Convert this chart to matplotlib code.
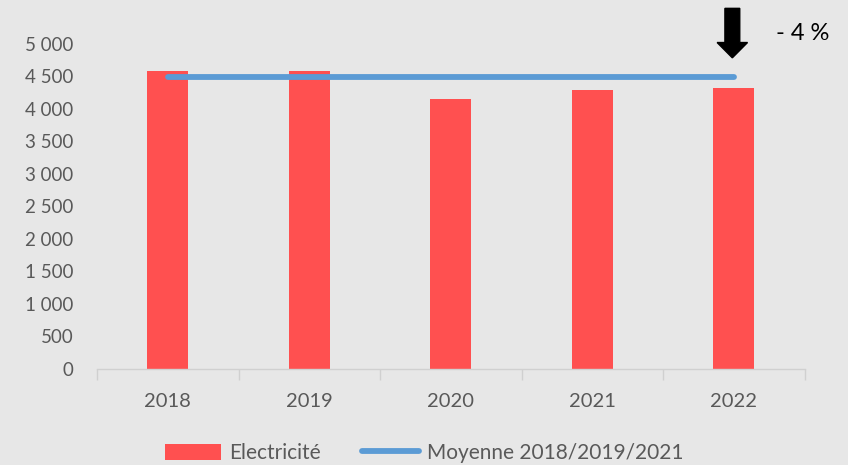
import numpy as np
import matplotlib
matplotlib.use('Agg')
import matplotlib.pyplot as plt
from matplotlib.patches import FancyArrow
from matplotlib.ticker import FuncFormatter

plt.rcParams['font.family'] = ['Lato', 'DejaVu Sans']

# donnees
annees = ['2018', '2019', '2020', '2021', '2022']
electricite = [4585, 4570, 4140, 4290, 4320]
moyenne = [4482, 4482, 4482, 4482, 4482]
etiquette_ecart = '- 4 %'

bg = '#E7E7E7'
rouge = '#FF5050'
bleu = '#5B9BD5'
gris = '#595959'

fig = plt.figure(figsize=(8.48, 4.65), dpi=100, facecolor=bg)
ax = fig.add_axes([97 / 848, 1 - 369 / 465, 707.5 / 848, 325.5 / 465])
ax.set_facecolor(bg)

x = np.arange(len(annees))
barres = ax.bar(x, electricite, width=0.29, color=rouge, label='Electricité', zorder=2)
ligne, = ax.plot(x, moyenne, color=bleu, lw=4.2, solid_capstyle='round',
                 label='Moyenne 2018/2019/2021', zorder=3)

ax.set_xlim(-0.5, len(annees) - 0.5)
ax.set_ylim(0, 5000)
ax.set_yticks(range(0, 5001, 500))
ax.yaxis.set_major_formatter(FuncFormatter(lambda v, p: f'{int(v):,}'.replace(',', ' ')))
ax.set_xticks(x)
ax.set_xticklabels(annees)
ax.set_xticks(np.arange(-0.5, len(annees)), minor=True)
ax.tick_params(axis='y', length=0, pad=17, labelsize=13.5, labelcolor=gris)
ax.tick_params(axis='x', which='major', length=0, pad=17, labelsize=14.5, labelcolor=gris)
ax.tick_params(axis='x', which='minor', length=8, width=1, color='#D0D0D0')
for s in ['top', 'right', 'left']:
    ax.spines[s].set_visible(False)
ax.spines['bottom'].set_color('#D0D0D0')
ax.spines['bottom'].set_linewidth(1)

# fleche de baisse au dessus de 2022
fleche = FancyArrow(3.99, 5540, 0, -760, width=0.105, head_width=0.215,
                    head_length=235, length_includes_head=True,
                    color='black', clip_on=False, zorder=4)
ax.add_patch(fleche)
fig.text(776 / 848, 1 - 34 / 465, etiquette_ecart, fontsize=17, color='black',
         va='center', ha='left')

fig.legend(handles=[barres, ligne], loc='center',
           bbox_to_anchor=(424 / 848, 1 - 453 / 465), ncol=2,
           frameon=False, fontsize=15, labelcolor=gris, handlelength=2.7,
           handleheight=0.8, columnspacing=2.0, handletextpad=0.4)

fig.savefig('out.png', dpi=100, facecolor=bg)
